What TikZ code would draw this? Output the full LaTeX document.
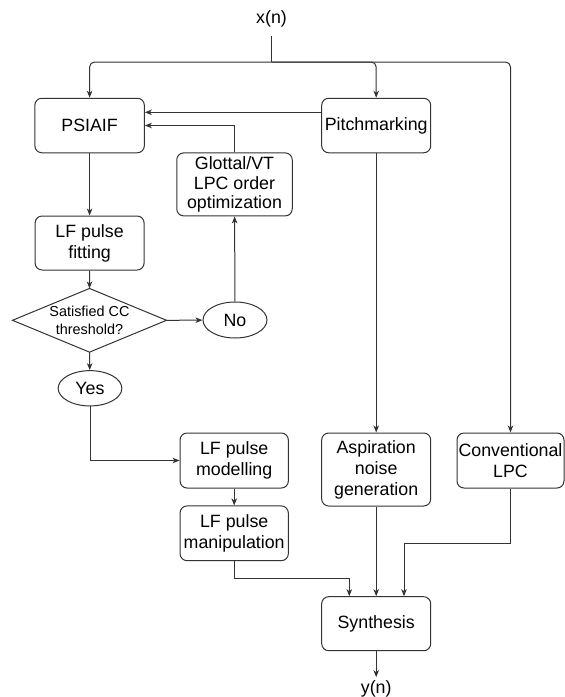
\documentclass[tikz,border=0pt]{standalone}
\usepackage{fontspec}
\setmainfont{Liberation Sans}
\usetikzlibrary{arrows.meta,shapes.geometric}

\begin{document}
\begin{tikzpicture}[x=1pt,y=-1pt,line width=1pt,
  lbl/.style={inner sep=0pt,font=\fontsize{17.8}{21}\selectfont},
  box/.style={draw=black!80,rounded corners=7pt,align=center,inner sep=0pt,
    font=\fontsize{17.8}{21}\selectfont},
  oval/.style={draw=black!80,ellipse,inner sep=0pt,font=\fontsize{17.8}{21}\selectfont},
  wire/.style={draw=black!80},
  arr/.style={wire,-{Stealth[length=7pt,width=5.5pt,inset=2pt]}},
  fork/.style={arr,rounded corners=5pt}]
\useasboundingbox (0,0) rectangle (565,697);

% blocks
\node[box,minimum width=109.5pt,minimum height=54.5pt] (psiaif) at (89.6,125.5) {PSIAIF};
\node[box,minimum width=109pt,minimum height=54.5pt] (pitch) at (376.2,125.5) {Pitchmarking};
\node[box,minimum width=115.5pt,minimum height=63pt,
  font=\fontsize{17.8}{19.8}\selectfont] (glot) at (234.5,184.4) {Glottal/VT\\LPC order\\optimization};
\node[box,minimum width=109pt,minimum height=54pt] (fit) at (89.6,243) {LF pulse\\fitting};
\node[inner sep=0pt,minimum width=153pt,minimum height=62.7pt,align=center,
  font=\fontsize{14.4}{17.3}\selectfont] (cc) at (89.5,320.3) {Satisfied CC\\threshold?};
\draw[wire] (cc.north) -- (cc.east) -- (cc.south) -- (cc.west) -- cycle;
\node[oval,minimum width=64pt,minimum height=36pt] (no) at (235,320) {No};
\node[oval,minimum width=63.7pt,minimum height=35.3pt] (yes) at (90,388.3) {Yes};
\node[box,minimum width=108.3pt,minimum height=55pt] (model) at (234.2,460.5) {LF pulse\\modelling};
\node[box,minimum width=108.3pt,minimum height=54.7pt] (manip) at (234.2,533.3) {LF pulse\\manipulation};
\node[box,minimum width=109pt,minimum height=73pt] (asp) at (376.2,469.5) {Aspiration\\noise\\generation};
\node[box,minimum width=107pt,minimum height=55pt] (conv) at (510.5,460.5) {Conventional\\LPC};
\node[box,minimum width=109pt,minimum height=54pt] (syn) at (376.2,623.7) {Synthesis};

% input and output signals
\node[lbl] (xn) at (271.5,19) {x(n)};
\node[lbl] (yn) at (376.2,689) {y(n)};
\coordinate (split) at (271.5,62);

% input distribution
\draw[wire,shorten <=8pt] (xn.south) -- (split);
\draw[fork] (split) -| (psiaif.north);
\draw[fork] (split) -| (pitch.north);
\draw[fork] (split) -| (conv.north);

% analysis loop
\draw[arr] ([yshift=13.2pt]pitch.west) -- ([yshift=13.2pt]psiaif.east);
\draw[arr] (glot.north) |- (psiaif.east);
\draw[arr] (psiaif) -- (fit);
\draw[arr] (fit) -- (cc.north);
\draw[arr] (cc.east) -- (no);
\draw[arr] (no) -- (glot);
\draw[arr] (cc.south) -- (yes);
\draw[arr] (yes) |- (model.west);
\draw[arr] (model) -- (manip);

% synthesis branches
\draw[arr] (pitch) -- (asp);
\draw[arr] (manip.south) -- ++(0,17.3) -| ([xshift=-26.9pt]syn.north);
\draw[arr] (asp) -- (syn);
\draw[arr] (conv.south) -- ++(0,54.7) -| ([xshift=27.8pt]syn.north);
\draw[arr,shorten >=3pt] (syn) -- (yn);
\end{tikzpicture}
\end{document}
